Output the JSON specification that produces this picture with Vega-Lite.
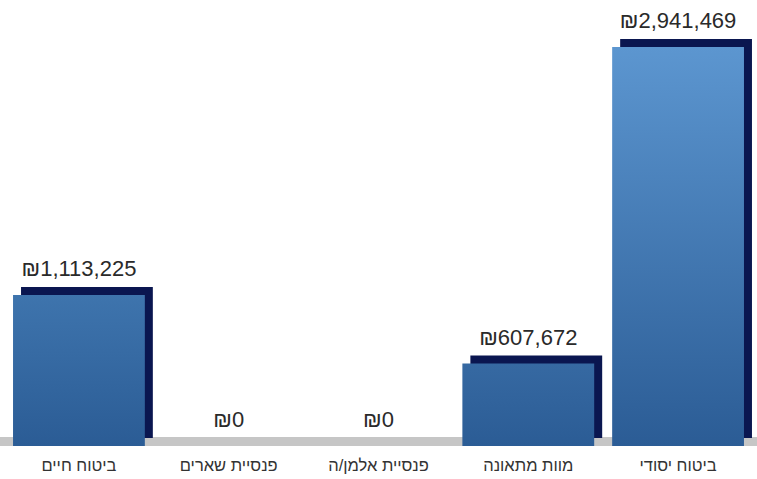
{
  "$schema": "https://vega.github.io/schema/vega-lite/v6.json",
  "width": 757,
  "height": 446,
  "autosize": {"type": "none"},
  "padding": {"left": 0, "top": 0, "right": 0, "bottom": 33},
  "background": "white",
  "config": {
    "view": {"stroke": null},
    "font": "Liberation Sans",
    "locale": {"number": {"decimal": ".", "thousands": ",", "grouping": [3], "currency": ["₪", ""]}}
  },
  "data": {
    "values": [
      {"category": "ביטוח חיים", "value": 1113225},
      {"category": "פנסיית שארים", "value": 0},
      {"category": "פנסיית אלמן/ה", "value": 0},
      {"category": "מוות מתאונה", "value": 607672},
      {"category": "ביטוח יסודי", "value": 2941469}
    ]
  },
  "encoding": {
    "x": {
      "field": "category",
      "type": "nominal",
      "sort": null,
      "scale": {"paddingInner": 0.12, "paddingOuter": 0.087},
      "axis": {
        "title": null,
        "labelAngle": 0,
        "ticks": false,
        "domain": false,
        "labelPadding": 11,
        "labelFontSize": 16.5,
        "labelColor": "#333333",
        "labelFont": "Liberation Sans"
      }
    },
    "y": {
      "field": "value",
      "type": "quantitative",
      "scale": {"domain": [0, 3287942], "nice": false, "zero": true},
      "axis": null
    }
  },
  "layer": [
    {
      "mark": {"type": "rule", "color": "#c6c6c6", "strokeWidth": 9, "yOffset": -4.5},
      "encoding": {"x": null, "y": {"datum": 0, "type": "quantitative"}}
    },
    {
      "mark": {"type": "bar", "color": "#0a1650", "xOffset": 8, "yOffset": -8}
    },
    {
      "mark": {"type": "bar"},
      "encoding": {
        "fill": {
          "condition": [
            {"test": "datum.value > 2000000", "value": {"gradient": "linear", "x1": 0, "y1": 0, "x2": 0, "y2": 1, "stops": [{"offset": 0, "color": "#5c96d0"}, {"offset": 1, "color": "#2b5c95"}]}},
            {"test": "datum.value > 1000000", "value": {"gradient": "linear", "x1": 0, "y1": 0, "x2": 0, "y2": 1, "stops": [{"offset": 0, "color": "#3e74ad"}, {"offset": 1, "color": "#2b5c95"}]}}
          ],
          "value": {"gradient": "linear", "x1": 0, "y1": 0, "x2": 0, "y2": 1, "stops": [{"offset": 0, "color": "#3669a2"}, {"offset": 1, "color": "#2b5c95"}]}
        }
      }
    },
    {
      "mark": {"type": "text", "fontSize": 22, "color": "#2a2a2a", "baseline": "alphabetic", "dy": -19, "font": "Liberation Sans"},
      "encoding": {"text": {"field": "value", "type": "quantitative", "format": "$,d"}}
    }
  ]
}
